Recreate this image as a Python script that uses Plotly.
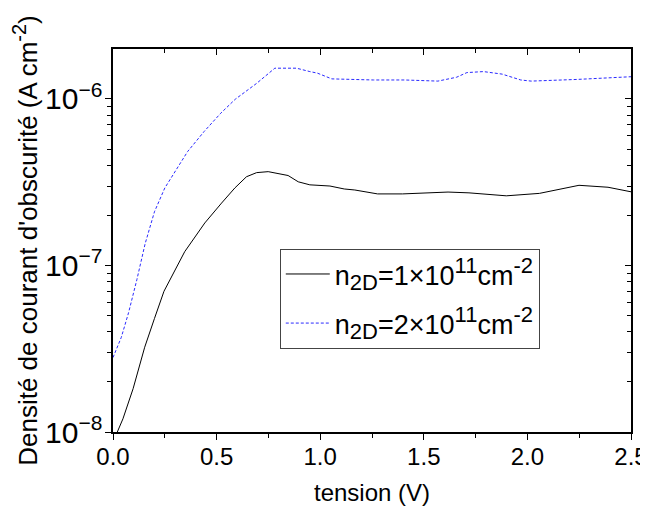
import plotly.graph_objects as go

v1 = [0.0, 0.021, 0.048, 0.097, 0.153, 0.2, 0.246, 0.346, 0.443, 0.524, 0.588, 0.644, 0.693, 0.749,
      0.845, 0.894, 0.95, 1.047, 1.116, 1.167, 1.277, 1.397, 1.617, 1.718, 1.898, 2.058, 2.249, 2.389, 2.5]
j1 = [8.7e-9, 1.0e-8, 1.2e-8, 1.82e-8, 3.23e-8, 4.8e-8, 7.0e-8, 1.21e-7, 1.80e-7, 2.37e-7, 2.92e-7,
      3.41e-7, 3.61e-7, 3.66e-7, 3.47e-7, 3.18e-7, 3.05e-7, 3.0e-7, 2.88e-7, 2.84e-7, 2.69e-7, 2.69e-7,
      2.76e-7, 2.73e-7, 2.62e-7, 2.71e-7, 3.03e-7, 2.95e-7, 2.77e-7]

v2 = [0.0, 0.04, 0.075, 0.115, 0.155, 0.2, 0.25, 0.3, 0.36, 0.44, 0.52, 0.59, 0.693, 0.781, 0.886,
      0.95, 0.986, 1.056, 1.257, 1.407, 1.568, 1.658, 1.708, 1.788, 1.878, 1.968, 2.018, 2.239, 2.5]
j2 = [2.8e-8, 3.7e-8, 5.2e-8, 8.2e-8, 1.35e-7, 2.1e-7, 2.92e-7, 3.67e-7, 4.83e-7, 6.38e-7, 8.21e-7,
      9.96e-7, 1.24e-6, 1.53e-6, 1.53e-6, 1.46e-6, 1.43e-6, 1.32e-6, 1.30e-6, 1.30e-6, 1.28e-6, 1.35e-6,
      1.44e-6, 1.46e-6, 1.41e-6, 1.30e-6, 1.28e-6, 1.31e-6, 1.36e-6]

SS = "<span style=\"font-size:22px\">{}</span>"
names = ["n<sub>" + SS.format("2D") + "</sub>=1×10<sup>" + SS.format("11") + "</sup>cm<sup>" + SS.format("-2") + "</sup>",
         "n<sub>" + SS.format("2D") + "</sub>=2×10<sup>" + SS.format("11") + "</sup>cm<sup>" + SS.format("-2") + "</sup>"]

XR = [0, 2.5]
YR = [-8, -5.7]

fig = go.Figure()
fig.add_trace(go.Scatter(x=v1, y=j1, mode="lines", name=names[0], legendgroup="a",
                         line=dict(color="black", width=1)))
fig.add_trace(go.Scatter(x=v2, y=j2, mode="lines", name=names[1], legendgroup="b",
                         line=dict(color="#2a2aff", width=1, dash="3px,2px")))
# empty trace to activate the mirrored (top/right) axes
fig.add_trace(go.Scatter(x=[], y=[], xaxis="x2", yaxis="y2", showlegend=False, hoverinfo="skip"))

font = dict(family="Liberation Sans, Arial, sans-serif", color="black")
# the page body adds an 8px margin, so the figure is 640x503 placed at (8, 8)
fig.update_layout(
    width=640, height=503,
    margin=dict(l=105, r=17, t=41, b=79, autoexpand=False),
    plot_bgcolor="white", paper_bgcolor="white",
    font=dict(size=21, **font),
    showlegend=True,
    legend=dict(x=0.322, y=0.478, xanchor="left", yanchor="top",
                bordercolor="#444444", borderwidth=1, bgcolor="white", itemwidth=44,
                font=dict(size=27, **font), tracegroupgap=11),
    xaxis=dict(range=XR, tick0=0, dtick=0.5, tickformat=".1f", automargin=False,
               ticklabeloverflow="allow",
               showline=True, linecolor="black", linewidth=1.5, mirror=True,
               ticks="outside", ticklen=6, tickwidth=1, tickcolor="black",
               minor=dict(ticks="outside", ticklen=4, dtick=0.25, tickcolor="black"),
               showgrid=False, zeroline=False, ticklabelstandoff=-4,
               title=dict(text="tension (V)", font=dict(size=24, **font), standoff=16),
               tickfont=dict(size=24, **font)),
    yaxis=dict(type="log", range=YR, dtick=1, exponentformat="power", automargin=False,
               showline=True, linecolor="black", linewidth=1.5, mirror=True,
               ticks="outside", ticklen=6, tickwidth=1, tickcolor="black",
               minor=dict(ticks="outside", ticklen=4, tickcolor="black"),
               showgrid=False, zeroline=False, ticklabelstandoff=-2,
               title=dict(text="Densité de courant d'obscurité (A cm<sup><span style=\"font-size:20px\">-2</span></sup>)",
                          font=dict(size=26, **font), standoff=10),
               tickfont=dict(size=24, **font)),
    xaxis2=dict(range=XR, overlaying="x", side="top", anchor="y",
                tick0=0, dtick=0.5, showticklabels=False, showline=False,
                ticks="inside", ticklen=6, tickwidth=1, tickcolor="black",
                minor=dict(ticks="inside", ticklen=4, dtick=0.25, tickcolor="black"),
                showgrid=False, zeroline=False),
    yaxis2=dict(type="log", range=YR, dtick=1, overlaying="y", side="right", anchor="x",
                showticklabels=False, showline=False,
                ticks="inside", ticklen=6, tickwidth=1, tickcolor="black",
                minor=dict(ticks="inside", ticklen=4, tickcolor="black"),
                showgrid=False, zeroline=False),
)

fig.write_html("out.html")
